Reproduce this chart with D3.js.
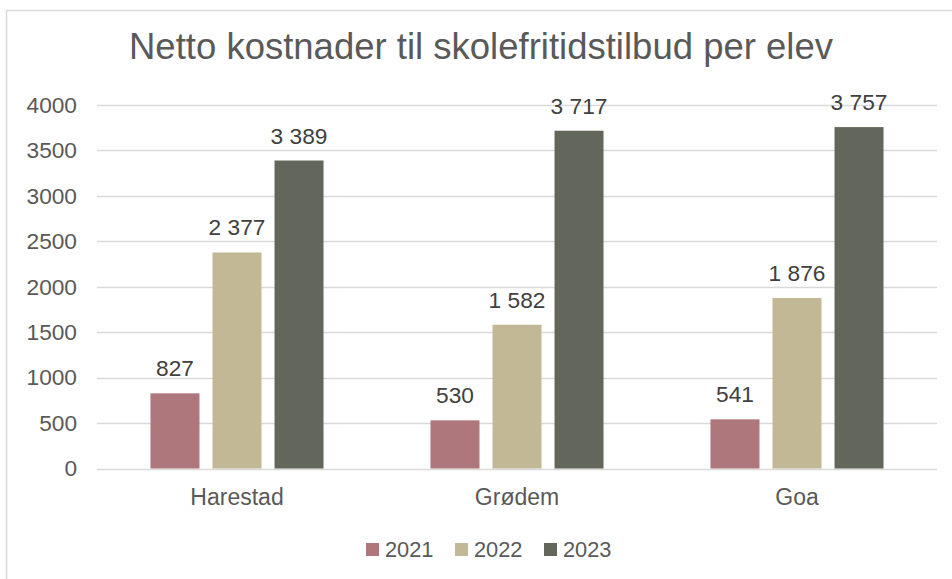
<!DOCTYPE html>
<html>
<head>
<meta charset="utf-8">
<script src="https://cdn.jsdelivr.net/npm/d3@7"></script>
<style>
    body { margin: 0; background: #fff; }
    svg text { font-family: "Liberation Sans", Arial, sans-serif; }
</style>
</head>
<body>
<svg id="chart" width="952" height="579"></svg>
<script>
"use strict"

// data
const title = "Netto kostnader til skolefritidstilbud per elev";
const categories = ["Harestad", "Grødem", "Goa"];
const series = ["2021", "2022", "2023"];
const values2021 = [827, 530, 541];
const values2022 = [2377, 1582, 1876];
const values2023 = [3389, 3717, 3757];
const yTicks = [0, 500, 1000, 1500, 2000, 2500, 3000, 3500, 4000];
const colors = ["#ae777b", "#c3b895", "#63665b"];

const allValues = [values2021, values2022, values2023];

let svg = d3.select("#chart");

// outer chart border
svg.append("rect")
    .attr("x", 6.5)
    .attr("y", 10.5)
    .attr("width", 1000)
    .attr("height", 700)
    .attr("fill", "#fff")
    .attr("stroke", "#d9d9d9")
    .attr("stroke-width", 1.5);

let plot = { left: 97, right: 937, top: 105, bottom: 468.5 };

let x0 = d3.scaleBand()
    .domain(categories)
    .range([plot.left, plot.right])
    .paddingInner(0.382)
    .paddingOuter(0.191);

let x1 = d3.scaleBand()
    .domain(series)
    .range([0, x0.bandwidth()])
    .paddingInner(0.21);

let y = d3.scaleLinear()
    .domain([0, 4000])
    .range([plot.bottom, plot.top]);

// gridlines
svg.append("g")
    .selectAll("line")
    .data(yTicks)
    .enter().append("line")
    .attr("x1", plot.left)
    .attr("x2", plot.right)
    .attr("y1", function (d) { return Math.round(y(d)) + 0.5; })
    .attr("y2", function (d) { return Math.round(y(d)) + 0.5; })
    .attr("stroke", "#d9d9d9")
    .attr("stroke-width", 1.5);

// y axis labels, no domain line
let yAxis = svg.append("g")
    .attr("transform", "translate(" + (plot.left - 20) + ",0)")
    .call(d3.axisLeft(y).tickValues(yTicks).tickSize(0).tickPadding(0).tickFormat(d3.format("d")));
yAxis.select(".domain").remove();
yAxis.selectAll("text")
    .attr("font-size", 22.7)
    .attr("font-family", "Liberation Sans, Arial, sans-serif")
    .attr("fill", "#595959");

// x axis labels
let xAxis = svg.append("g")
    .attr("transform", "translate(0," + plot.bottom + ")")
    .call(d3.axisBottom(x0).tickSize(0).tickPadding(0));
xAxis.select(".domain").remove();
xAxis.selectAll("text")
    .attr("dy", null)
    .attr("y", 36.5)
    .attr("font-size", 23)
    .attr("font-family", "Liberation Sans, Arial, sans-serif")
    .attr("fill", "#595959");

// bars
let numFmt = d3.formatLocale({
    decimal: ",",
    thousands: "\u00a0",
    grouping: [3],
    currency: ["", ""]
}).format(",d");

let groups = svg.append("g")
    .selectAll("g")
    .data(categories)
    .enter().append("g")
    .attr("transform", function (d) { return "translate(" + x0(d) + ",0)"; });

let cells = groups.selectAll("g")
    .data(function (d, i) {
        return series.map(function (s, j) {
            return { cat: d, key: s, value: allValues[j][i], color: colors[j] };
        });
    })
    .enter().append("g");

cells.append("rect")
    .attr("x", function (d) { return x1(d.key); })
    .attr("y", function (d) { return y(d.value); })
    .attr("width", x1.bandwidth())
    .attr("height", function (d) { return y(0) - y(d.value); })
    .attr("fill", function (d) { return d.color; });

cells.append("text")
    .attr("x", function (d) { return x1(d.key) + x1.bandwidth() / 2; })
    .attr("y", function (d) { return y(d.value) - 17; })
    .attr("text-anchor", "middle")
    .attr("font-size", 22.7)
    .attr("fill", "#404040")
    .text(function (d) { return numFmt(d.value); });

// title
svg.append("text")
    .attr("x", 481)
    .attr("y", 59)
    .attr("text-anchor", "middle")
    .attr("font-size", 36.5)
    .attr("fill", "#595959")
    .text(title);

// legend
let legend = svg.append("g")
    .attr("transform", "translate(366,543)");

let items = legend.selectAll("g")
    .data(series)
    .enter().append("g")
    .attr("transform", function (d, i) { return "translate(" + (i * 89) + ",0)"; });

items.append("rect")
    .attr("width", 13)
    .attr("height", 13)
    .attr("fill", function (d, i) { return colors[i]; });

items.append("text")
    .attr("x", 19)
    .attr("y", 13.7)
    .attr("font-size", 21.8)
    .attr("fill", "#595959")
    .text(function (d) { return d; });
</script>
</body>
</html>
